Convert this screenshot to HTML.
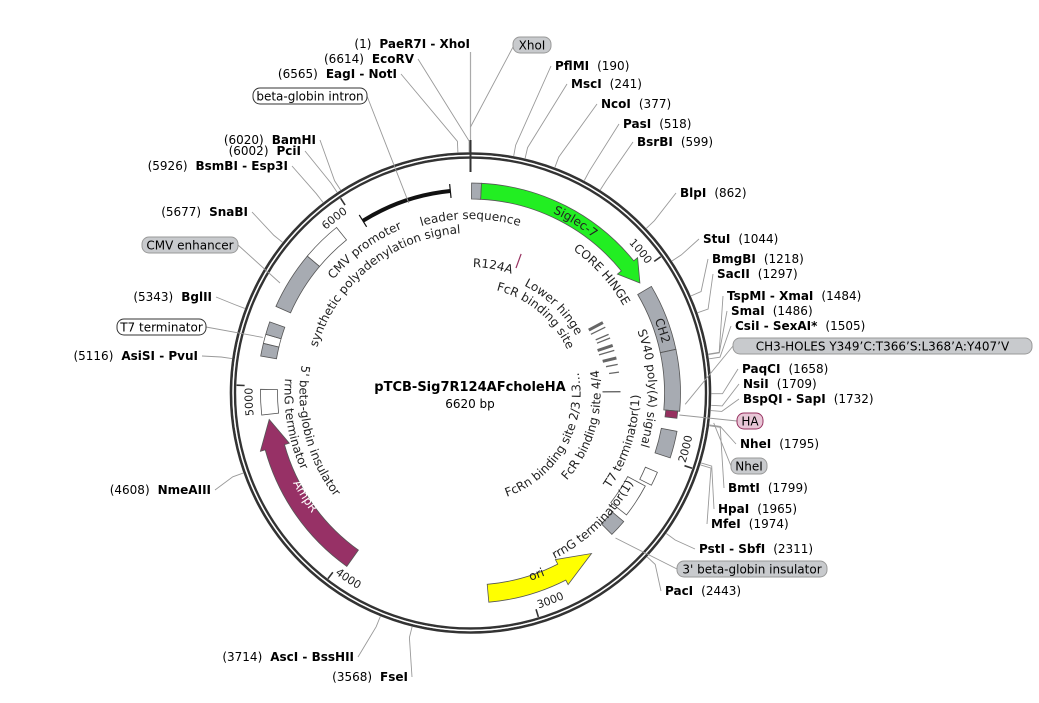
<!DOCTYPE html>
<html><head><meta charset="utf-8"><style>
html,body{margin:0;padding:0;background:#fff;width:1039px;height:703px;overflow:hidden}
svg{display:block;font-family:"DejaVu Sans","Liberation Sans",sans-serif}
.b{font-weight:bold}
</style></head><body>
<svg id="s" width="1039" height="703" viewBox="0 0 1039 703" xmlns="http://www.w3.org/2000/svg"></svg>
<script>
var S=document.getElementById('s'),CX=470.5,CY=393,N=6620;
var h='';
function pt(a,r){var t=a*Math.PI/180;return [CX+r*Math.sin(t),CY-r*Math.cos(t)];}
function P(p){return p[0].toFixed(1)+','+p[1].toFixed(1);}
function arc(a1,a2,r){var l=(a2-a1)>180?1:0;return 'M'+P(pt(a1,r))+' A'+r+','+r+' 0 '+l+' 1 '+P(pt(a2,r));}
function band(a1,a2,r1,r2,fill,stroke){var l=(a2-a1)>180?1:0;
 h+='<path d="M'+P(pt(a1,r2))+' A'+r2+','+r2+' 0 '+l+' 1 '+P(pt(a2,r2))+' L'+P(pt(a2,r1))+' A'+r1+','+r1+' 0 '+l+' 0 '+P(pt(a1,r1))+' Z" fill="'+fill+'" stroke="'+(stroke||'#555')+'" stroke-width="0.8"/>';}
function arrowCW(a1,a2,r1,r2,fill,hl){var b=a2-hl,l=(b-a1)>180?1:0,m=(r1+r2)/2;
 h+='<path d="M'+P(pt(a1,r2))+' A'+r2+','+r2+' 0 '+l+' 1 '+P(pt(b,r2))+' L'+P(pt(b,r2+5))+' L'+P(pt(a2,m))+' L'+P(pt(b,r1-5))+' L'+P(pt(b,r1))+' A'+r1+','+r1+' 0 '+l+' 0 '+P(pt(a1,r1))+' Z" fill="'+fill+'" stroke="#555" stroke-width="0.8"/>';}
function arrowCCW(a1,a2,r1,r2,fill,hl){var b=a1+hl,l=(a2-b)>180?1:0,m=(r1+r2)/2;
 h+='<path d="M'+P(pt(b,r2))+' A'+r2+','+r2+' 0 '+l+' 1 '+P(pt(a2,r2))+' L'+P(pt(a2,r1))+' A'+r1+','+r1+' 0 '+l+' 0 '+P(pt(b,r1))+' L'+P(pt(b,r1-5))+' L'+P(pt(a1,m))+' L'+P(pt(b,r2+5))+' Z" fill="'+fill+'" stroke="#555" stroke-width="0.8"/>';}
var pid=0;
function ctext(txt,a1,a2,r,cw,opt){opt=opt||{};var id='p'+(pid++);var d;var l=(a2-a1)>180?1:0;
 if(cw){d='M'+P(pt(a1,r))+' A'+r+','+r+' 0 '+l+' 1 '+P(pt(a2,r));}
 else{d='M'+P(pt(a2,r))+' A'+r+','+r+' 0 '+l+' 0 '+P(pt(a1,r));}
 h+='<path id="'+id+'" d="'+d+'" fill="none"/>';
 h+='<text font-size="'+(opt.fs||12)+'" fill="'+(opt.fill||'#222')+'"'+(opt.b?' font-weight="bold"':'')+'><textPath href="#'+id+'" startOffset="50%" text-anchor="middle">'+txt+'</textPath></text>';}
function A(bp){return bp/N*360;}
h+='<circle cx="'+CX+'" cy="'+CY+'" r="239.5" fill="none" stroke="#333" stroke-width="2.6"/>';
h+='<circle cx="'+CX+'" cy="'+CY+'" r="235.5" fill="none" stroke="#333" stroke-width="2.4"/>';
h+='<circle cx="'+CX+'" cy="'+CY+'" r="237.5" fill="none" stroke="#fff" stroke-width="1.2"/>';
h+='<line x1="470.5" y1="140" x2="470.5" y2="172" stroke="#333" stroke-width="2"/>';
[1000,2000,3000,4000,5000,6000].forEach(function(v){var a=A(v);h+='<line x1="'+pt(a,234)[0]+'" y1="'+pt(a,234)[1]+'" x2="'+pt(a,226)[0]+'" y2="'+pt(a,226)[1]+'" stroke="#333" stroke-width="1.6"/>';
 var bottom=(a>90&&a<270);ctext(String(v),a-8,a-0.4,bottom?226:218,!bottom,{fs:11});});
band(0.3,3,194,210,'#a7abb2');
arrowCW(3,57,194,210,'#22ee22',6);
ctext('Siglec-7',15,48,198,true,{fs:12});
band(59.5,78,194,210,'#a7abb2');band(78,95,194,210,'#a7abb2');
ctext('CH2',60,84,198,true,{fs:12});
band(95,97,196,208,'#96305f');
band(100.5,108,194,210,'#a7abb2');
band(113,117,190,203,'#fff');
band(118,128,178,198,'#fff');
band(130,135,185,200,'#a7abb2');
arrowCCW(143,175,192,210,'#ffff00',10);
ctext('ori',148,172,197,false,{fs:12});
arrowCW(215.5,262.5,193,213,'#973166',8);
ctext('AmpR',220,256,199,false,{fs:12,fill:'#fff'});
band(264,271,193,210,'#fff');
band(280,283.5,197,213,'#a7abb2');band(283.5,286,197,213,'#fff');band(286,289.5,197,213,'#a7abb2');
band(294,310,197,213,'#a7abb2');band(310,321,197,213,'#fff');
h+='<path d="'+arc(328,354.3,203)+'" fill="none" stroke="#111" stroke-width="4"/>';
[328,354.3].forEach(function(a){h+='<line x1="'+pt(a,196)[0]+'" y1="'+pt(a,196)[1]+'" x2="'+pt(a,210)[0]+'" y2="'+pt(a,210)[1]+'" stroke="#111" stroke-width="1.2"/>';});
h+='<line x1="'+pt(20,133)[0]+'" y1="'+pt(20,133)[1]+'" x2="'+pt(20,148)[0]+'" y2="'+pt(20,148)[1]+'" stroke="#96305f" stroke-width="1.2"/>';
[[62,134,150,3],[64,134,150,1.3],[67,136,150,1.3],[68.5,136,150,1.3],[71.5,134,150,3],[73.5,134,150,1.3],[76.5,136,150,3],[79,138,150,1.3],[82,140,150,1.3],[89.5,132,150,1.3]].forEach(function(m){
 var p1=pt(m[0],m[1]),p2=pt(m[0],m[2]);h+='<line x1="'+p1[0].toFixed(1)+'" y1="'+p1[1].toFixed(1)+'" x2="'+p2[0].toFixed(1)+'" y2="'+p2[1].toFixed(1)+'" stroke="#666" stroke-width="'+m[3]+'"/>';});
ctext('leader sequence',-25,25,174,true);
ctext('CMV promoter',-55,-18,178,true);
ctext('synthetic polyadenylation signal',-75,-2,160,true);
ctext('CORE HINGE',28,68,176,true);
ctext('SV40 poly(A) signal',62,115,178,true);
ctext('R124A',-5,25,126,true);
ctext('Lower hinge',20,68,120,true);
ctext('FcR binding site',8,72,106,true);
ctext('FcRn binding site 2/3  L3...',70,170,110,false);
ctext('FcR binding site 4/4',72,140,130,false);
ctext('T7 terminator(1)',80,135,169,false);
ctext('rrnG terminator(1)',112,160,186,false);
ctext('5\' beta-globin insulator',228,284,171,false);
ctext('rrnG terminator',240,280,186,false);
h+='<text x="470" y="391" font-size="13" font-weight="bold" text-anchor="middle">pTCB-Sig7R124AFcholeHA</text>';
h+='<text x="470" y="408" font-size="12" text-anchor="middle">6620 bp</text>';
var L=[
[1,'L',470,48,'(1)','PaeR7I - XhoI'],[6614,'L',414,63,'(6614)','EcoRV'],[6565,'L',397,78,'(6565)','EagI - NotI'],
[6020,'L',316,144,'(6020)','BamHI'],[6002,'L',301,155,'(6002)','PciI'],[5926,'L',288,170,'(5926)','BsmBI - Esp3I'],
[5677,'L',248,216,'(5677)','SnaBI'],[5343,'L',212,301,'(5343)','BglII'],[5116,'L',198,360,'(5116)','AsiSI - PvuI'],
[4608,'L',211,494,'(4608)','NmeAIII'],[3714,'L',354,661,'(3714)','AscI - BssHII'],[3568,'L',408,681,'(3568)','FseI'],
[190,'R',555,70,'(190)','PflMI'],[241,'R',571,88,'(241)','MscI'],[377,'R',601,108,'(377)','NcoI'],[518,'R',623,128,'(518)','PasI'],
[599,'R',637,146,'(599)','BsrBI'],[862,'R',680,197,'(862)','BlpI'],[1044,'R',703,243,'(1044)','StuI'],[1218,'R',712,263,'(1218)','BmgBI'],
[1297,'R',717,278,'(1297)','SacII'],[1484,'R',727,300,'(1484)','TspMI - XmaI'],[1486,'R',731,315,'(1486)','SmaI'],
[1505,'R',735,330,'(1505)','CsiI - SexAI*'],[1658,'R',742,373,'(1658)','PaqCI'],[1709,'R',743,388,'(1709)','NsiI'],
[1732,'R',743,403,'(1732)','BspQI - SapI'],[1795,'R',740,448,'(1795)','NheI'],[1799,'R',728,492,'(1799)','BmtI'],
[1965,'R',718,513,'(1965)','HpaI'],[1974,'R',711,528,'(1974)','MfeI'],[2311,'R',699,553,'(2311)','PstI - SbfI'],[2443,'R',665,595,'(2443)','PacI']];
L.forEach(function(e){var a=A(e[0]);var p1=pt(a,241),p2=pt(a,252);var lx=e[1]=='L'?e[2]+4:e[2]-4,ly=e[3]-4;
 if(e[0]!=1)h+='<polyline points="'+P(p1)+' '+P(p2)+' '+lx+','+ly+'" fill="none" stroke="#999" stroke-width="0.9"/>';
 if(e[1]=='L')h+='<text x="'+e[2]+'" y="'+e[3]+'" font-size="12" text-anchor="end">'+e[4]+'<tspan class="b" dx="8">'+e[5]+'</tspan></text>';
 else h+='<text x="'+e[2]+'" y="'+e[3]+'" font-size="12"><tspan class="b">'+e[5]+'</tspan><tspan dx="8">'+e[4]+'</tspan></text>';});
h+='<line x1="470.5" y1="52" x2="470.5" y2="140" stroke="#aaa" stroke-width="1.2"/>';
var B=[[513,37,38,'XhoI','#c8cacd','#999',1.5,238],[253,88,114,'beta-globin intron','#fff','#333',342,200],
[142,237,96,'CMV enhancer','#c8cacd','#999',300,220],[117,319,89,'T7 terminator','#fff','#333',285,215],
[733,338,299,'CH3-HOLES Y349\u2019C:T366\u2019S:L368\u2019A:Y407\u2019V','#c8cacd','#999',93,215],[737,413,26,'HA','#e8c6d6','#96305f',96,210],
[731,458,36,'NheI','#c8cacd','#999',97,245],[677,561,150,'3\' beta-globin insulator','#c8cacd','#999',135,205]];
B.forEach(function(b){var p=pt(b[6],b[7]);var lx=b[0]>470?b[0]:b[0]+b[2],ly=b[1]+8;
 if(b[3]=='XhoI'){lx=b[0];ly=b[1]+10;p=[470.5,127];}
 h+='<line x1="'+lx+'" y1="'+ly+'" x2="'+p[0].toFixed(1)+'" y2="'+p[1].toFixed(1)+'" stroke="#999" stroke-width="0.9"/>';
 h+='<rect x="'+b[0]+'" y="'+b[1]+'" width="'+b[2]+'" height="16" rx="7" fill="'+b[4]+'" stroke="'+b[5]+'" stroke-width="1"/>';
 h+='<text x="'+(b[0]+b[2]/2)+'" y="'+(b[1]+12.5)+'" font-size="12" text-anchor="middle">'+b[3]+'</text>';});
S.innerHTML=h;
</script>
</body></html>
